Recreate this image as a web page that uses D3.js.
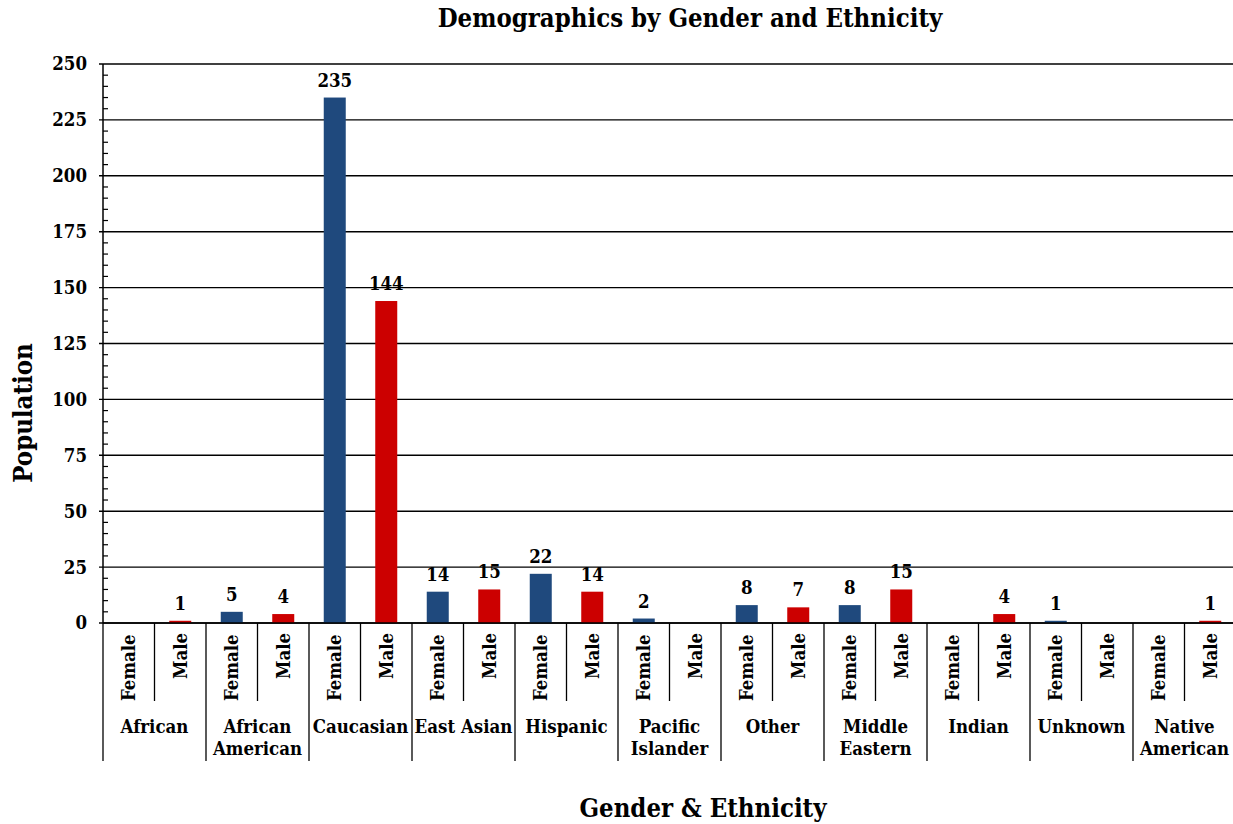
<!DOCTYPE html>
<html>
<head>
<meta charset="utf-8">
<script src="https://cdn.jsdelivr.net/npm/d3@7/dist/d3.min.js"></script>
<style>
  html, body { margin: 0; padding: 0; background: #fff; }
  svg { display: block; }
  text { font-family: "DejaVu Serif Condensed", "DejaVu Serif", "Liberation Serif", serif; font-weight: bold; fill: #000; }
</style>
</head>
<body>
<svg id="chart" width="1233" height="824"></svg>
<script>
// Ethnic groups (label lines) and the two genders within each
const groups = [
  ["African"], ["African", "American"], ["Caucasian"], ["East Asian"], ["Hispanic"],
  ["Pacific", "Islander"], ["Other"], ["Middle", "Eastern"], ["Indian"], ["Unknown"],
  ["Native", "American"]
];
const genders = ["Female", "Male"];
// Population per group; null where no value is recorded
const femaleValues = [null, 5, 235, 14, 22, 2, 8, 8, null, 1, null];
const maleValues   = [1, 4, 144, 15, 14, null, 7, 15, 4, null, 1];
const yTicks = [0, 25, 50, 75, 100, 125, 150, 175, 200, 225, 250];

const colors = { Female: "#1F497D", Male: "#CC0000" };

const svg = d3.select("#chart");
const plotLeft = 103, plotRight = 1236, plotTop = 64, plotBottom = 623;
const labelSize = 18.5;

const groupKeys = groups.map(g => g.join(" "));
const x0 = d3.scaleBand().domain(groupKeys).range([plotLeft, plotRight]);
const x1 = d3.scaleBand().domain(genders).range([0, x0.bandwidth()]);
const y = d3.scaleLinear().domain([0, 250]).range([plotBottom, plotTop]);

// Horizontal gridlines at each major tick
svg.append("g")
  .selectAll("line")
  .data(yTicks)
  .join("line")
  .attr("x1", plotLeft - 4).attr("x2", plotRight)
  .attr("y1", d => y(d)).attr("y2", d => y(d))
  .attr("stroke", "#000").attr("stroke-width", 1.4);

// Y axis with minor ticks pointing inward
const yAxis = svg.append("g").attr("transform", `translate(${plotLeft},0)`);
yAxis.append("line").attr("x1", 0).attr("x2", 0).attr("y1", plotTop).attr("y2", plotBottom)
  .attr("stroke", "#000").attr("stroke-width", 1.5);
yAxis.selectAll("line.minor")
  .data(d3.range(0, 251, 5).filter(v => v % 25 !== 0))
  .join("line").attr("class", "minor")
  .attr("x1", 0).attr("x2", 5)
  .attr("y1", d => y(d)).attr("y2", d => y(d))
  .attr("stroke", "#000").attr("stroke-width", 1.2);
yAxis.selectAll("text")
  .data(yTicks)
  .join("text")
  .attr("x", -16).attr("y", d => y(d))
  .attr("dy", "0.35em")
  .attr("text-anchor", "end")
  .attr("font-size", labelSize)
  .text(d => d);

// Bars
const rows = [];
groupKeys.forEach((g, i) => {
  rows.push({ group: g, gender: "Female", value: femaleValues[i] });
  rows.push({ group: g, gender: "Male", value: maleValues[i] });
});
const barWidth = 22;
const present = rows.filter(r => r.value !== null);

svg.append("g")
  .selectAll("rect")
  .data(present)
  .join("rect")
  .attr("x", d => x0(d.group) + x1(d.gender) + x1.bandwidth() / 2 - barWidth / 2)
  .attr("width", barWidth)
  .attr("y", d => y(d.value))
  .attr("height", d => y(0) - y(d.value))
  .attr("fill", d => colors[d.gender]);

// Value labels
svg.append("g")
  .selectAll("text")
  .data(present)
  .join("text")
  .attr("x", d => x0(d.group) + x1(d.gender) + x1.bandwidth() / 2)
  .attr("y", d => y(d.value) - 11)
  .attr("text-anchor", "middle")
  .attr("font-size", labelSize)
  .text(d => d.value);

// Baseline
svg.append("line").attr("x1", plotLeft).attr("x2", plotRight).attr("y1", plotBottom).attr("y2", plotBottom)
  .attr("stroke", "#000").attr("stroke-width", 1.5);

// Category axis: group separators and gender separators
const catAxis = svg.append("g");
const boundaries = groupKeys.map(g => x0(g)).concat([plotRight]);
catAxis.selectAll("line.grp")
  .data(boundaries)
  .join("line").attr("class", "grp")
  .attr("x1", d => d).attr("x2", d => d)
  .attr("y1", plotBottom).attr("y2", 761)
  .attr("stroke", "#000").attr("stroke-width", 1.3);
catAxis.selectAll("line.sub")
  .data(groupKeys)
  .join("line").attr("class", "sub")
  .attr("x1", d => x0(d) + x1("Male")).attr("x2", d => x0(d) + x1("Male"))
  .attr("y1", plotBottom).attr("y2", 701)
  .attr("stroke", "#000").attr("stroke-width", 1.3);

// Gender labels (rotated)
catAxis.selectAll("text.gender")
  .data(rows)
  .join("text").attr("class", "gender")
  .attr("transform", d => `translate(${x0(d.group) + x1(d.gender) + x1.bandwidth() / 2},${d.gender === "Female" ? 701 : 679}) rotate(-90)`)
  .attr("dy", "0.35em")
  .attr("text-anchor", "start")
  .attr("font-size", labelSize)
  .text(d => d.gender);

// Group labels
const glabels = catAxis.selectAll("text.group")
  .data(groups)
  .join("text").attr("class", "group")
  .attr("x", (d, i) => x0(groupKeys[i]) + x0.bandwidth() / 2)
  .attr("y", 733)
  .attr("text-anchor", "middle")
  .attr("font-size", labelSize);
glabels.selectAll("tspan")
  .data(d => d)
  .join("tspan")
  .attr("x", function() { return this.parentNode.getAttribute("x"); })
  .attr("dy", (d, i) => i === 0 ? 0 : 22)
  .text(d => d);

// Titles
svg.append("text")
  .attr("x", 690).attr("y", 27)
  .attr("text-anchor", "middle")
  .attr("font-size", 25.5)
  .text("Demographics by Gender and Ethnicity");

svg.append("text")
  .attr("x", 703).attr("y", 817)
  .attr("text-anchor", "middle")
  .attr("font-size", 25.5)
  .text("Gender & Ethnicity");

svg.append("text")
  .attr("transform", `translate(32,413) rotate(-90)`)
  .attr("text-anchor", "middle")
  .attr("font-size", 25.5)
  .text("Population");
</script>
</body>
</html>
